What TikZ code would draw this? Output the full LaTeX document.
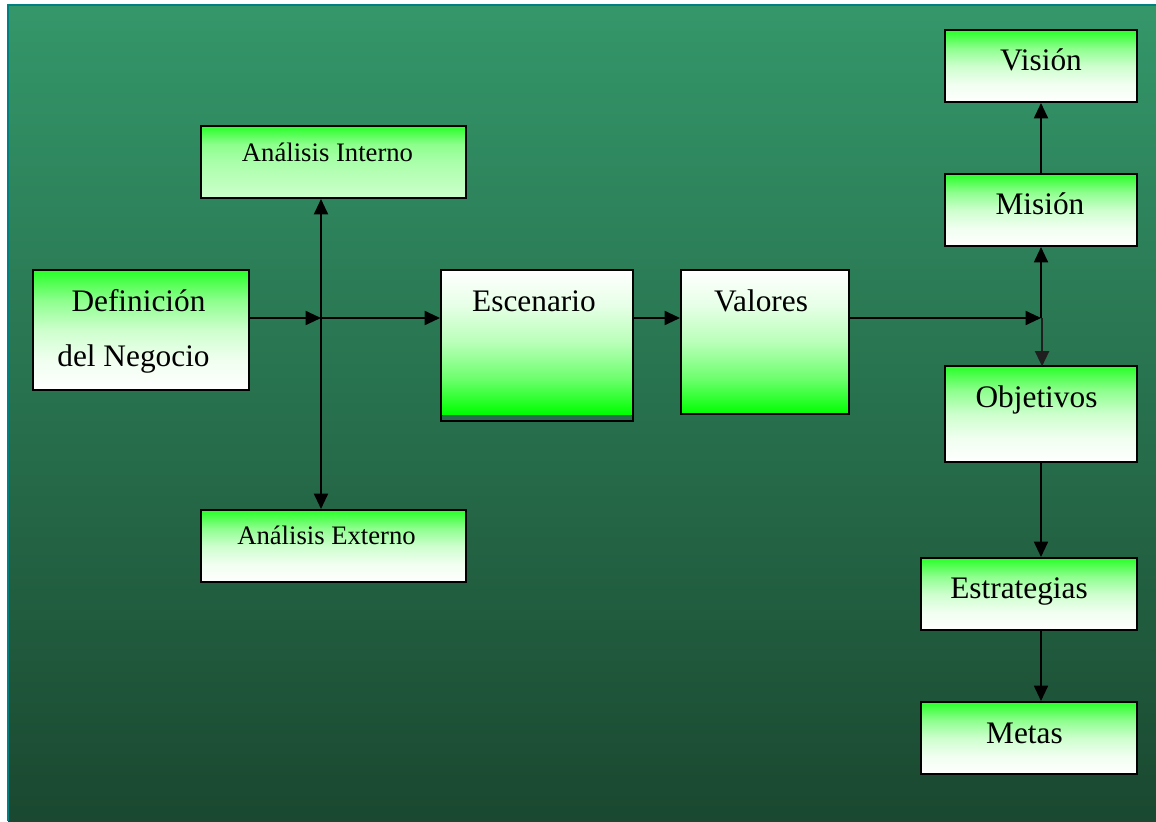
\documentclass[tikz,border=0pt]{standalone}
\usepackage{fontspec}
\setmainfont{Liberation Serif}
\usetikzlibrary{arrows.meta,fit}
\definecolor{bgtop}{RGB}{52,151,106}
\definecolor{bgbot}{RGB}{26,72,48}
\definecolor{frameteal}{RGB}{0,128,128}
\definecolor{gA}{RGB}{40,255,40}
\definecolor{gB}{RGB}{140,255,140}
\definecolor{gC}{RGB}{205,255,205}
\definecolor{gD}{RGB}{240,255,240}
\definecolor{gE}{RGB}{170,255,170}
\definecolor{gF}{RGB}{205,255,205}
\definecolor{gG}{RGB}{0,255,0}
\definecolor{gH}{RGB}{230,255,230}
\definecolor{gI}{RGB}{185,255,185}
\definecolor{gJ}{RGB}{110,255,110}
\pgfdeclareverticalshading{greentop}{100bp}{color(0bp)=(white); color(25bp)=(white); color(37.5bp)=(gD); color(50bp)=(gC); color(62.5bp)=(gB); color(75bp)=(gA); color(100bp)=(gA)}
\pgfdeclareverticalshading{greentoplight}{100bp}{color(0bp)=(gF); color(25bp)=(gF); color(50bp)=(gE); color(62.5bp)=(gB); color(75bp)=(gA); color(100bp)=(gA)}
\pgfdeclareverticalshading{greenbottom}{100bp}{color(0bp)=(gG); color(25bp)=(gG); color(37.5bp)=(gJ); color(50bp)=(gI); color(62.5bp)=(gH); color(75bp)=(white); color(100bp)=(white)}
\begin{document}
\begin{tikzpicture}[x=0.75pt,y=-0.75pt,
  box/.style={draw=black,line width=1.5pt,inner sep=0pt},
  arr/.style={-{Triangle[length=11.5pt,width=10.5pt]},line width=1.4pt},
  lbl/.style={anchor=base,inner sep=0pt,font=\fontsize{23.5}{28}\selectfont},
  slbl/.style={anchor=base,inner sep=0pt,font=\fontsize{20}{24}\selectfont}]
\useasboundingbox (0,0) rectangle (1156,821);
\fill[white] (0,0) rectangle (1156,821);
\shade[top color=bgtop,bottom color=bgbot] (8,5) rectangle (1156,821);
\draw[frameteal,line width=1.5pt] (8,821) -- (8,5) -- (1156,5);

% boxes
\node[box,fit={(33,270)(249,390)},shading=greentop] (def) {};
\node[box,fit={(201,126)(466,198)},shading=greentoplight] (ai) {};
\node[box,fit={(201,510)(466,582)},shading=greentop] (ae) {};
\shade[shading=greenbottom] (441,270) rectangle (633,414);
\node[box,fit={(441,270)(633,421)}] (esc) {};
\node[box,fit={(681,270)(849,414)},shading=greenbottom] (val) {};
\node[box,fit={(945,30)(1137,102)},shading=greentop] (vis) {};
\node[box,fit={(945,174)(1137,246)},shading=greentop] (mis) {};
\node[box,fit={(945,366)(1137,462)},shading=greentop] (obj) {};
\node[box,fit={(921,558)(1137,630)},shading=greentop] (est) {};
\node[box,fit={(921,702)(1137,774)},shading=greentop] (met) {};

% labels
\node[lbl] (tdef1) at (138.5,311) {Definición};
\node[lbl] (tdef2) at (133.5,366) {del Negocio};
\node[slbl] (tai) at (327.5,161) {Análisis Interno};
\node[slbl] (tae) at (326.5,544) {Análisis Externo};
\node[lbl] (tesc) at (534,311) {Escenario};
\node[lbl] (tval) at (761,311) {Valores};
\node[lbl] (tvis) at (1041,70) {Visión};
\node[lbl] (tmis) at (1040,214) {Misión};
\node[lbl] (tobj) at (1036.5,407) {Objetivos};
\node[lbl] (test) at (1019,598) {Estrategias};
\node[lbl] (tmet) at (1024.5,743) {Metas};

% junctions
\coordinate (J1) at (321,318);
\coordinate (J2) at (1041,318);

% connectors
\draw[arr] (def.east |- J1) -- (J1);
\draw[arr] (J1) -- (J1 -| esc.west);
\draw[arr] (J1) -- (J1 |- ai.south);
\draw[arr] (J1) -- (J1 |- ae.north);
\draw[arr] (esc.east |- J1) -- (J1 -| val.west);
\draw[arr] (val.east |- J2) -- (J2);
\draw[arr] (J2) -- (mis.south);
\draw[arr,black!88,line width=1.8pt] ([xshift=0.8pt]J2) -- ([xshift=0.8pt,yshift=-1pt]obj.north);
\draw[arr] (mis.north) -- (vis.south);
\draw[arr] (obj.south) -- (obj.south |- est.north);
\draw[arr] (est.south -| obj.south) -- (obj.south |- met.north);
\end{tikzpicture}
\end{document}
